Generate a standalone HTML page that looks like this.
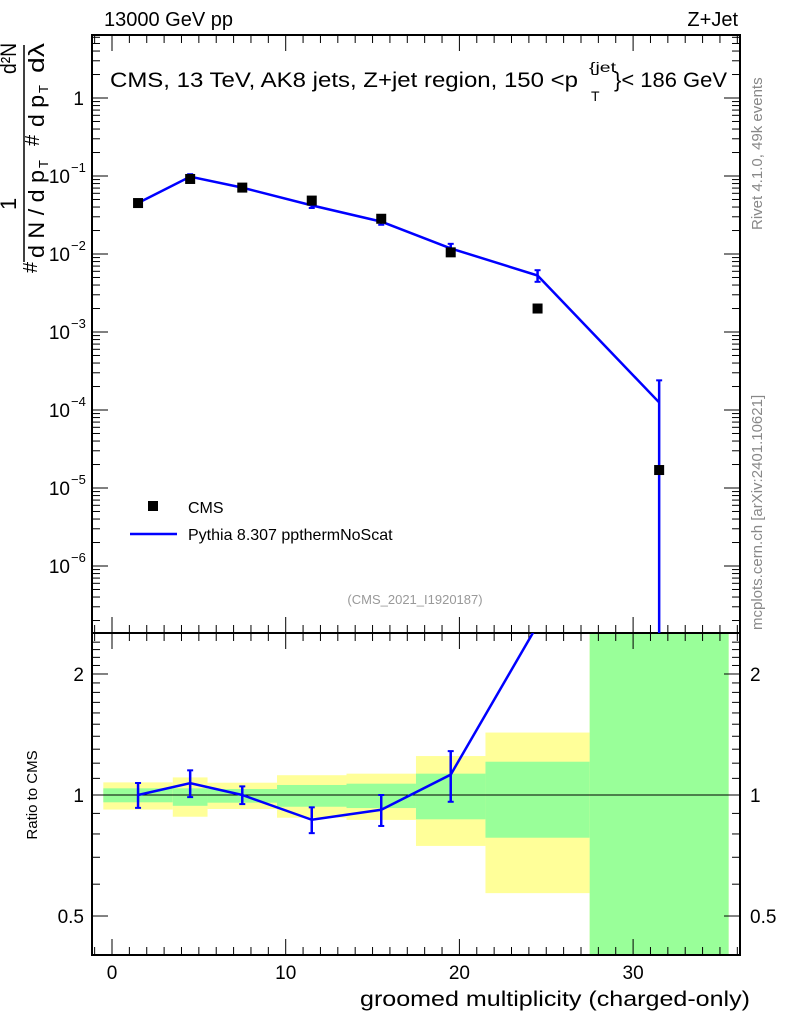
<!DOCTYPE html>
<html><head><meta charset="utf-8"><style>
body{margin:0;background:#fff;font-family:"Liberation Sans",sans-serif}
svg text{font-family:"Liberation Sans",sans-serif}
</style></head><body>
<svg id="c" width="786" height="1024" xmlns="http://www.w3.org/2000/svg"></svg>
<script>
const binEdges=[-0.5,3.5,5.5,9.5,13.5,17.5,21.5,27.5,35.5];
const binCenters=[1.5,4.5,7.5,11.5,15.5,19.5,24.5,31.5];
const cmsValues=[0.045,0.0916,0.071,0.0484,0.0283,0.0105,0.0020,1.7e-5];
const mcValues=[0.045,0.098,0.071,0.042,0.026,0.0118,0.0053,1.25e-4];
const mcErrUp=[0.0032,0.0075,0.0036,0.0031,0.0023,0.0017,0.0009,1.15e-4];
const mcErrDown=[0.0032,0.0075,0.0036,0.0031,0.0023,0.0017,0.0009,1.25e-4];
const yellowUp=[1.075,1.106,1.073,1.12,1.13,1.25,1.43,10];
const yellowDown=[0.92,0.883,0.923,0.878,0.867,0.747,0.57,0.01];
const greenUp=[1.039,1.039,1.035,1.059,1.067,1.13,1.21,10];
const greenDown=[0.959,0.94,0.957,0.935,0.928,0.87,0.783,0.01];
const xTicks=[0,10,20,30];
const yMainTicks=[[0,"1"],[-1,"10"],[-2,"10"],[-3,"10"],[-4,"10"],[-5,"10"],[-6,"10"]];
const ratioTicks=[0.5,1,2];

const svg=document.getElementById('c');const NS="http://www.w3.org/2000/svg";
function mk(t,a,p,txt){const e=document.createElementNS(NS,t);for(const k in a)e.setAttribute(k,a[k]);if(txt!==undefined)e.textContent=txt;(p||svg).appendChild(e);return e;}
const L=92,R=740,T=35,M=633,B=955;
const X=v=>112+(v)*17.37;
const Y=v=>98-Math.log10(v)*78;
const YR=v=>795-Math.log10(v)*402;
const cl=(y,a,b)=>Math.max(a,Math.min(b,y));

const bands=mk('g',{});


for(let i=0;i<binCenters.length;i++){
 const x0=X(binEdges[i]),x1=X(binEdges[i+1]);
 let y0=cl(YR(yellowUp[i]),M,B),y1=cl(YR(yellowDown[i]),M,B);
 mk('rect',{x:x0,y:y0,width:x1-x0,height:y1-y0,fill:'#ffff99'},bands);
 y0=cl(YR(greenUp[i]),M,B);y1=cl(YR(greenDown[i]),M,B);
 mk('rect',{x:x0,y:y0,width:x1-x0,height:y1-y0,fill:'#99ff99'},bands);
}
mk('line',{x1:L,x2:R,y1:YR(1),y2:YR(1),stroke:'#000','stroke-width':1});

mk('rect',{x:L,y:T,width:R-L,height:M-T,fill:'none',stroke:'#000','stroke-width':2});
mk('rect',{x:L,y:M,width:R-L,height:B-M,fill:'none',stroke:'#000','stroke-width':2});

for(let v=-1;v<=36;v++){const x=X(v);if(x<L||x>R)continue;const len=v%10==0?16:8;
 [M,B].forEach(yb=>{mk('line',{x1:x,x2:x,y1:yb,y2:yb-len,stroke:'#000'});});
 mk('line',{x1:x,x2:x,y1:T,y2:T+len,stroke:'#000'});mk('line',{x1:x,x2:x,y1:M,y2:M+len,stroke:'#000'});}
xTicks.forEach(v=>{const t=mk('text',{x:X(v),y:979,'font-size':19,'text-anchor':'middle'},null,String(v));});
mk('text',{x:360,y:1006,'font-size':21,textLength:390,lengthAdjust:'spacingAndGlyphs',},null,'groomed multiplicity (charged-only)');

for(let d=-7;d<=0;d++){for(let m=1;m<10;m++){const v=m*Math.pow(10,d);const y=Y(v);if(y<T||y>M)continue;const len=m==1?16:8;
 mk('line',{x1:L,x2:L+len,y1:y,y2:y,stroke:'#000'});mk('line',{x1:R,x2:R-len,y1:y,y2:y,stroke:'#000'});}}
yMainTicks.forEach(([e,s])=>{const y=Y(Math.pow(10,e));
 const t=mk('text',{x:e==0?84:70,y:y+7,'font-size':19,'text-anchor':'end'},null,s);
 if(e<0)mk('text',{x:71,y:y-4,'font-size':13},null,'−'+(-e));});

for(let v=0.4;v<=2.5;v+=0.1){const y=YR(v);if(y<M||y>B)continue;const maj=Math.abs(v-1)<1e-6||Math.abs(v-2)<1e-6||Math.abs(v-0.5)<1e-6;const len=maj?16:8;
 mk('line',{x1:L,x2:L+len,y1:y,y2:y,stroke:'#000'});mk('line',{x1:R,x2:R-len,y1:y,y2:y,stroke:'#000'});}
ratioTicks.forEach(v=>{const y=YR(v)+7;const s=String(v);
 let t=mk('text',{x:84,y:y,'font-size':19,'text-anchor':'end'},null,s);
 t=mk('text',{x:750,y:y,'font-size':19},null,s);});
mk('text',{transform:'translate(37,795) rotate(-90)','font-size':15,'text-anchor':'middle',},null,'Ratio to CMS');

const clipM=mk('clipPath',{id:'cm'});mk('rect',{x:L,y:T,width:R-L,height:M-T},clipM);
const clipR=mk('clipPath',{id:'cr'});mk('rect',{x:L,y:M,width:R-L,height:B-M},clipR);
const gm=mk('g',{'clip-path':'url(#cm)'});

mk('polyline',{points:binCenters.map((c,i)=>X(c)+','+Y(mcValues[i])).join(' '),fill:'none',stroke:'#0000ff','stroke-width':2.5},gm);
binCenters.forEach((c,i)=>{const x=X(c);const lo=mcValues[i]-mcErrDown[i];const y1=lo>0?Y(lo):M+5;const y0=Y(mcValues[i]+mcErrUp[i]);
 mk('line',{x1:x,x2:x,y1:y0,y2:y1,stroke:'#0000ff','stroke-width':2.5},gm);
 mk('line',{x1:x-3,x2:x+3,y1:y0,y2:y0,stroke:'#0000ff','stroke-width':2},gm);
 mk('line',{x1:x-3,x2:x+3,y1:y1,y2:y1,stroke:'#0000ff','stroke-width':2},gm);});
binCenters.forEach((c,i)=>{const r=mk('rect',{x:X(c)-5,y:Y(cmsValues[i])-5,width:10,height:10,fill:'#000'});});

const gr=mk('g',{'clip-path':'url(#cr)'});

mk('polyline',{points:binCenters.map((c,i)=>X(c)+','+YR(mcValues[i]/cmsValues[i])).join(' '),fill:'none',stroke:'#0000ff','stroke-width':2.5},gr);
binCenters.forEach((c,i)=>{const x=X(c);const yc=YR(mcValues[i]/cmsValues[i]);if(yc<M)return;
 const y0=YR((mcValues[i]+mcErrUp[i])/cmsValues[i]);const lo=mcValues[i]-mcErrDown[i];const y1=lo>0?YR(lo/cmsValues[i]):B+5;
 mk('line',{x1:x,x2:x,y1:y0,y2:y1,stroke:'#0000ff','stroke-width':2.5},gr);
 mk('line',{x1:x-3,x2:x+3,y1:y0,y2:y0,stroke:'#0000ff','stroke-width':2},gr);
 mk('line',{x1:x-3,x2:x+3,y1:y1,y2:y1,stroke:'#0000ff','stroke-width':2},gr);});

mk('text',{x:104,y:26,'font-size':20,},null,'13000 GeV pp');
mk('text',{x:738,y:26,'font-size':20,'text-anchor':'end',},null,'Z+Jet');
const tt=mk('g',{});
mk('text',{x:110,y:87,'font-size':21,textLength:468,lengthAdjust:'spacingAndGlyphs'},tt,'CMS, 13 TeV, AK8 jets, Z+jet region, 150 <p');
mk('text',{x:589,y:72,'font-size':14,textLength:27,lengthAdjust:'spacingAndGlyphs'},tt,'{jet');
mk('text',{x:591,y:101,'font-size':14},tt,'T');
mk('text',{x:614,y:87,'font-size':21,textLength:113,lengthAdjust:'spacingAndGlyphs'},tt,'}< 186 GeV');
mk('text',{x:415,y:604,'font-size':13,fill:'#999','text-anchor':'middle',},null,'(CMS_2021_I1920187)');
mk('rect',{x:148,y:501,width:10,height:10,fill:'#000',});
mk('text',{x:188,y:513,'font-size':16,},null,'CMS');
mk('line',{x1:130,x2:177,y1:534,y2:534,stroke:'#0000ff','stroke-width':2.5,});
mk('text',{x:188,y:540,'font-size':16,},null,'Pythia 8.307 ppthermNoScat');
mk('text',{transform:'translate(762,230) rotate(-90)','font-size':15,fill:'#888',},null,'Rivet 4.1.0,  49k events');
mk('text',{transform:'translate(762,630) rotate(-90)','font-size':15,fill:'#888',},null,'mcplots.cern.ch [arXiv:2401.10621]');
const yt=mk('g',{});
const rt=(x,y,s,t,extra)=>{const a={transform:`translate(${x},${y}) rotate(-90)`,'font-size':s};Object.assign(a,extra||{});return mk('text',a,yt,t);};
rt(16,210,22,'1');
rt(16,74,22,'d²N',{textLength:31,lengthAdjust:'spacingAndGlyphs'});
mk('line',{x1:24,x2:24,y1:45,y2:262,stroke:'#000','stroke-width':1.5},yt);
rt(37,273,20,'#');
rt(44,258,22,'d N / d p',{textLength:88,lengthAdjust:'spacingAndGlyphs'});
rt(48,168,13,'T');
rt(39,146,20,'#');
rt(44,127,22,'d p',{textLength:32,lengthAdjust:'spacingAndGlyphs'});
rt(48,93,13,'T');
rt(44,73,22,'dλ',{textLength:30,lengthAdjust:'spacingAndGlyphs'});
</script>
</body></html>
